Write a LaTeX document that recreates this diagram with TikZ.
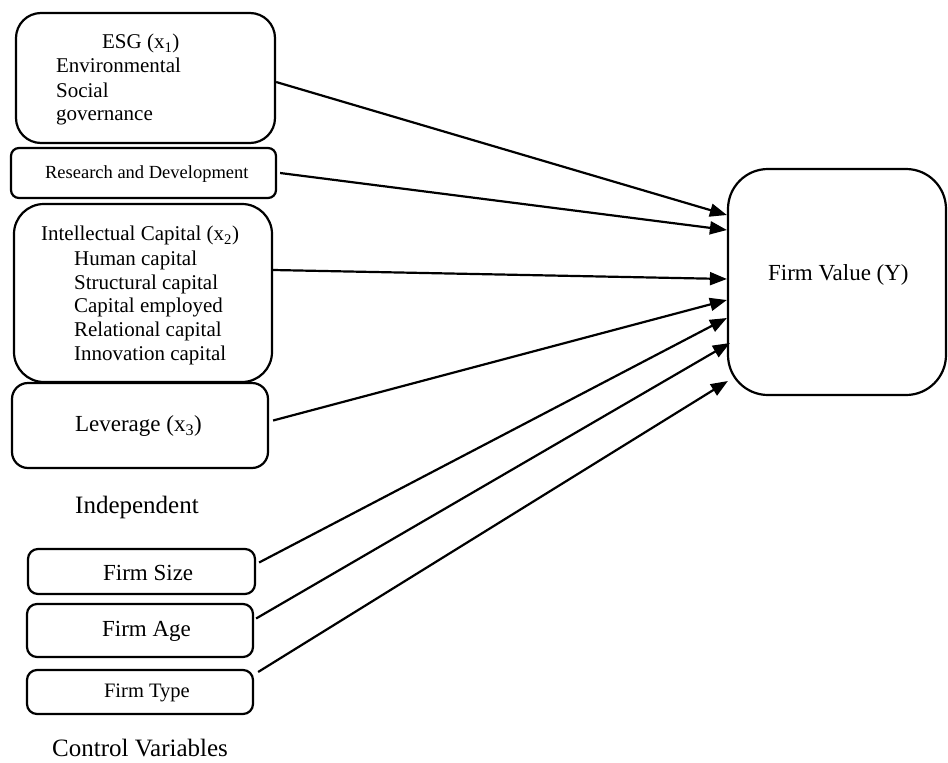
\documentclass[tikz,border=0pt]{standalone}
\usepackage{fontspec}
\setmainfont{Liberation Serif}
\usepackage{tikz}
\usetikzlibrary{arrows.meta}

\begin{document}
\begin{tikzpicture}[
    x=1pt, y=-1pt,
    every node/.style={inner sep=0pt},
    varbox/.style={draw=black, line width=2.2pt, fill=white},
    txt/.style={anchor=base west, font=\fontsize{21}{25}\selectfont},
    link/.style={line width=2.2pt, -{Triangle[length=17pt,width=13pt]}}
]

\useasboundingbox (0,0) rectangle (948,763);

% Independent variable boxes
\node[varbox, minimum width=259pt, minimum height=130pt, rounded corners=25pt] (esg) at (145.5,78) {};
\node[varbox, minimum width=265pt, minimum height=50pt, rounded corners=8pt] (rnd) at (143.5,173) {};
\node[varbox, minimum width=258pt, minimum height=178pt, rounded corners=30pt] (ic) at (143,293) {};
\node[varbox, minimum width=256pt, minimum height=85pt, rounded corners=16pt] (lev) at (140,425.5) {};

% Control variable boxes
\node[varbox, minimum width=227pt, minimum height=45pt, rounded corners=10pt] (size) at (141.5,571.5) {};
\node[varbox, minimum width=226pt, minimum height=53pt, rounded corners=10pt] (age) at (140,630.5) {};
\node[varbox, minimum width=226pt, minimum height=44pt, rounded corners=10pt] (type) at (140,692) {};

% Dependent variable box
\node[varbox, minimum width=218pt, minimum height=226pt, rounded corners=40pt] (fv) at (837,282) {};

% ESG text
\node[txt] at ([xshift=87pt, yshift=-37pt]esg.north west) {ESG (x\textsubscript{1})};
\node[txt] at ([xshift=41pt, yshift=-61pt]esg.north west) {Environmental};
\node[txt] at ([xshift=41pt, yshift=-86pt]esg.north west) {Social};
\node[txt] at ([xshift=41pt, yshift=-109pt]esg.north west) {governance};

% R&D text
\node[txt, font=\fontsize{18.5}{22}\selectfont] at ([xshift=35pt, yshift=-32pt]rnd.north west) {Research and Development};

% Intellectual capital text
\node[txt] at ([xshift=28pt, yshift=-38pt]ic.north west) {Intellectual Capital (x\textsubscript{2})};
\node[txt] at ([xshift=61pt, yshift=-63pt]ic.north west) {Human capital};
\node[txt] at ([xshift=61pt, yshift=-87pt]ic.north west) {Structural capital};
\node[txt] at ([xshift=61pt, yshift=-110pt]ic.north west) {Capital employed};
\node[txt] at ([xshift=61pt, yshift=-134pt]ic.north west) {Relational capital};
\node[txt] at ([xshift=61pt, yshift=-158pt]ic.north west) {Innovation capital};

% Leverage text
\node[txt, font=\fontsize{23}{27}\selectfont] at ([xshift=64pt, yshift=-50pt]lev.north west) {Leverage (x\textsubscript{3})};

% Group captions
\node[txt, font=\fontsize{25}{29}\selectfont] (indep) at (75,513) {Independent};
\node[txt, font=\fontsize{25}{29}\selectfont] (ctrl) at (52,756) {Control Variables};

% Control variable text
\node[txt, font=\fontsize{23}{27}\selectfont] at ([xshift=76pt, yshift=-33pt]size.north west) {Firm Size};
\node[txt, font=\fontsize{23}{27}\selectfont] at ([xshift=76pt, yshift=-34pt]age.north west) {Firm Age};
\node[txt, font=\fontsize{20.5}{24}\selectfont] at ([xshift=78pt, yshift=-29pt]type.north west) {Firm Type};

% Firm value text
\node[txt, font=\fontsize{23}{27}\selectfont] at ([xshift=41pt, yshift=2pt]fv.west) {Firm Value (Y)};

% Arrows into firm value
\draw[link] ([yshift=-4pt]esg.east) -- ([yshift=67pt]fv.west);
\draw[link] ([xshift=3pt]rnd.east) -- ([yshift=52pt]fv.west);
\draw[link] ([yshift=23pt]ic.east) -- ([yshift=3pt]fv.west);
\draw[link] ([xshift=4pt, yshift=5pt]lev.east) -- ([yshift=-18pt]fv.west);
\draw[link] ([xshift=3pt, yshift=9pt]size.east) -- ([yshift=-36pt]fv.west);
\draw[link] ([xshift=2pt, yshift=12pt]age.east) -- ([xshift=3pt, yshift=-61pt]fv.west);
\draw[link] ([xshift=4pt, yshift=20pt]type.east) -- ([xshift=1pt, yshift=-99pt]fv.west);

\end{tikzpicture}
\end{document}
